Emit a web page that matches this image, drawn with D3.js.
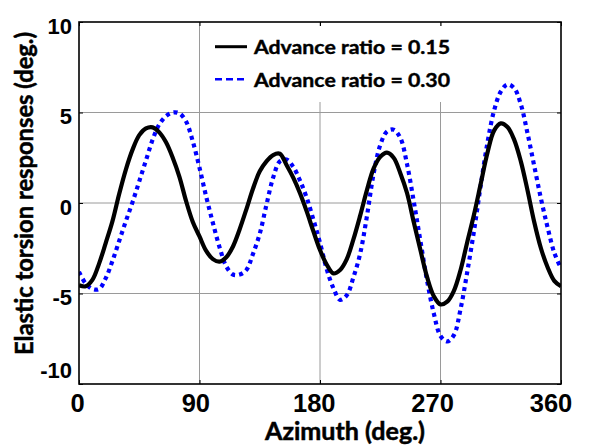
<!DOCTYPE html>
<html>
<head>
<meta charset="utf-8">
<style>
  body { margin: 0; background: #fff; }
  svg { display: block; }
</style>
</head>
<body>
<script src="https://d3js.org/d3.v7.min.js"></script>
<script>
// azimuth (deg.) sample positions
var azimuth = [0,5,10,15,20,25,30,35,40,45,50,55,60,65,70,75,80,85,90,95,100,105,110,115,120,
  125,130,135,140,145,150,155,160,165,170,175,180,185,190,195,200,205,210,215,220,225,230,235,240,
  245,250,255,260,265,270,275,280,285,290,295,300,305,310,315,320,325,330,335,340,345,350,355,360];

// elastic torsion response, advance ratio 0.15
var mu015 = [-4.55,-4.6,-4.25,-3.35,-2.2,-1.0,0.5,1.85,2.95,3.75,4.12,4.18,3.9,3.35,2.5,1.45,0.1,-1.05,-1.85,-2.65,-3.1,
  -3.24,-3.0,-2.4,-1.45,-0.35,0.8,1.75,2.3,2.65,2.72,2.1,1.4,0.55,-0.45,-1.55,-2.6,-3.4,-3.89,-3.7,-3.1,-2.0,-0.7,
  0.7,1.9,2.55,2.78,2.5,1.65,0.55,-1.05,-2.6,-4.1,-5.15,-5.6,-5.45,-4.85,-3.7,-2.15,-0.65,1.05,2.75,4.0,4.4,4.2,
  3.5,2.3,0.7,-1.05,-2.5,-3.55,-4.3,-4.6];

// elastic torsion response, advance ratio 0.30
var mu030 = [-3.8,-4.45,-4.75,-4.75,-4.15,-3.2,-2.1,-1.0,0.05,1.2,2.35,3.5,4.35,4.8,5.0,4.95,4.5,3.4,1.95,0.35,-1.1,
  -2.45,-3.5,-3.95,-3.95,-3.7,-2.8,-1.7,-0.1,1.4,2.3,2.4,2.0,1.25,0.3,-0.9,-2.2,-3.65,-4.7,-5.35,-5.1,-4.1,-2.8,
  -0.75,1.6,3.2,3.95,4.05,3.6,2.15,0.1,-2.1,-4.3,-6.1,-7.35,-7.65,-7.3,-5.85,-3.8,-1.55,0.95,3.3,5.1,6.15,6.55,
  6.35,5.45,3.85,2.05,0.25,-1.35,-2.75,-3.6];

var xTicks = [0, 90, 180, 270, 360];
var yTicks = [-10, -5, 0, 5, 10];
var legendLabels = ['Advance ratio = 0.15', 'Advance ratio = 0.30'];

var W = 592, H = 446;
var pL = 79, pR = 561, pT = 22, pB = 384;

var x = d3.scaleLinear().domain([0, 360]).range([pL, pR]);
var y = d3.scaleLinear().domain([-10, 10]).range([pB, pT]);
// tick labels sit a little left of their ticks in the original
var xLab = d3.scaleLinear().domain([0, 360]).range([77.5, 551]);

var svg = d3.select('body').append('svg')
    .attr('width', W)
    .attr('height', H);

// grid
svg.append('g').selectAll('line').data(xTicks.slice(1, -1)).enter().append('line')
    .attr('x1', function(d){ return x(d); }).attr('x2', function(d){ return x(d); })
    .attr('y1', pT).attr('y2', pB)
    .attr('stroke', '#9a9a9a').attr('stroke-width', 1);
svg.append('g').selectAll('line').data(yTicks.slice(1, -1)).enter().append('line')
    .attr('y1', function(d){ return y(d); }).attr('y2', function(d){ return y(d); })
    .attr('x1', pL).attr('x2', pR)
    .attr('stroke', '#9a9a9a').attr('stroke-width', 1);

// inward ticks on all sides
function ticks(axis, tr) {
  var g = svg.append('g').attr('transform', tr).call(axis);
  g.select('.domain').remove();
  g.selectAll('text').remove();
  g.selectAll('line').attr('stroke', '#000').attr('stroke-width', 1);
}
ticks(d3.axisBottom(x).tickValues(xTicks).tickSize(-4), 'translate(0,' + pB + ')');
ticks(d3.axisTop(x).tickValues(xTicks).tickSize(-4), 'translate(0,' + pT + ')');
ticks(d3.axisLeft(y).tickValues(yTicks).tickSize(-4), 'translate(' + pL + ',0)');
ticks(d3.axisRight(y).tickValues(yTicks).tickSize(-4), 'translate(' + pR + ',0)');

// legend box hides the grid behind it
svg.append('rect')
    .attr('x', 205).attr('y', 26).attr('width', 254).attr('height', 76)
    .attr('fill', '#fff');

// curves
svg.append('clipPath').attr('id', 'clip').append('rect')
    .attr('x', pL).attr('y', pT).attr('width', pR - pL).attr('height', pB - pT);

var line = d3.line().curve(d3.curveCatmullRom.alpha(0.5));

svg.append('path')
    .attr('clip-path', 'url(#clip)')
    .attr('d', line(azimuth.map(function(a, i){ return [x(a), y(mu030[i])]; })))
    .attr('fill', 'none').attr('stroke', '#0000ff')
    .attr('stroke-width', 4.2).attr('stroke-dasharray', '4,4');

svg.append('path')
    .attr('clip-path', 'url(#clip)')
    .attr('d', line(azimuth.map(function(a, i){ return [x(a), y(mu015[i])]; })))
    .attr('fill', 'none').attr('stroke', '#000')
    .attr('stroke-width', 4.2);

// frame
svg.append('rect')
    .attr('x', pL).attr('y', pT).attr('width', pR - pL).attr('height', pB - pT)
    .attr('fill', 'none').attr('stroke', '#000').attr('stroke-width', 1.6);

// tick labels
svg.append('g').selectAll('text').data(xTicks).enter().append('text')
    .attr('x', function(d){ return xLab(d); })
    .attr('y', 412)
    .attr('text-anchor', 'middle')
    .attr('font-family', 'Liberation Sans, Arial, sans-serif')
    .attr('font-weight', 'bold')
    .attr('font-size', 25.5)
    .text(function(d){ return d; });

svg.append('g').selectAll('text').data(yTicks).enter().append('text')
    .attr('x', 72)
    .attr('y', function(d){ return d === -10 ? y(d) - 14 : y(d) + 4; })
    .attr('dy', '0.36em')
    .attr('text-anchor', 'end')
    .attr('font-family', 'Liberation Sans, Arial, sans-serif')
    .attr('font-weight', 'bold')
    .attr('font-size', 22)
    .text(function(d){ return d; });

// axis titles (thin stroke to get closer to the heavy original face)
svg.append('text')
    .attr('x', 345).attr('y', 440)
    .attr('text-anchor', 'middle')
    .attr('font-family', 'Lato, sans-serif')
    .attr('font-weight', 'bold')
    .attr('font-size', 24)
    .attr('stroke', '#000').attr('stroke-width', 0.5)
    .attr('textLength', 160).attr('lengthAdjust', 'spacingAndGlyphs')
    .text('Azimuth (deg.)');

svg.append('text')
    .attr('transform', 'translate(33,193.5) rotate(-90)')
    .attr('text-anchor', 'middle')
    .attr('font-family', 'Lato, sans-serif')
    .attr('font-weight', 'bold')
    .attr('font-size', 24)
    .attr('stroke', '#000').attr('stroke-width', 0.5)
    .attr('textLength', 323).attr('lengthAdjust', 'spacingAndGlyphs')
    .text('Elastic torsion responses (deg.)');

// legend
var leg = svg.append('g').selectAll('g').data(legendLabels).enter().append('g')
    .attr('transform', function(d, i){ return 'translate(0,' + (46.7 + i * 32.5) + ')'; });
leg.append('line')
    .attr('x1', 215).attr('x2', 247).attr('y1', 0).attr('y2', 0)
    .attr('stroke', function(d, i){ return i ? '#0000ff' : '#000'; })
    .attr('stroke-width', function(d, i){ return i ? 2.6 : 3; })
    .attr('stroke-dasharray', function(d, i){ return i ? '7,4' : null; });
leg.append('text')
    .attr('x', 254).attr('y', 7.5)
    .attr('font-family', 'Lato, sans-serif')
    .attr('font-weight', 'bold')
    .attr('font-size', 18)
    .attr('stroke', '#000').attr('stroke-width', 0.4)
    .attr('textLength', 196).attr('lengthAdjust', 'spacingAndGlyphs')
    .text(function(d){ return d; });
</script>
</body>
</html>
